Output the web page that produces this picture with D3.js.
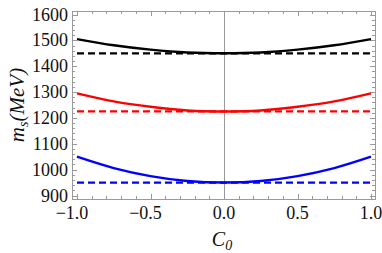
<!DOCTYPE html>
<html>
<head>
<meta charset="utf-8">
<script src="https://cdn.jsdelivr.net/npm/d3@7"></script>
<style>
  body { margin: 0; background: #fff; }
  text { font-family: "Liberation Serif", "Times New Roman", "DejaVu Serif", serif; }
</style>
</head>
<body>
<div id="chart"></div>
<script>
// values
const c0 = [-1.0, -0.75, -0.5, -0.25, 0.0, 0.25, 0.5, 0.75, 1.0];
const massBlack = [1505, 1481, 1464, 1453, 1450, 1453, 1464, 1481, 1505];
const massRed = [1295, 1264, 1243, 1229, 1225, 1229, 1243, 1264, 1295];
const massBlue = [1050, 1006, 975, 956, 950, 956, 975, 1006, 1050];
const minBlack = 1450;
const minRed = 1225;
const minBlue = 950;
const xTicks = [-1.0, -0.5, 0.0, 0.5, 1.0];
const yTicks = [900, 1000, 1100, 1200, 1300, 1400, 1500, 1600];

const series = [
  {values: massBlack, min: minBlack, color: "#000000"},
  {values: massRed, min: minRed, color: "#ff0000"},
  {values: massBlue, min: minBlue, color: "#0000ff"}
];

const width = 382, height = 253;
const frame = {left: 72, right: 375, top: 11, bottom: 199};

const svg = d3.select("#chart")
  .append("svg")
  .attr("width", width)
  .attr("height", height);

const x = d3.scaleLinear().domain([-1, 1]).range([77, 371]);
const y = d3.scaleLinear().domain([900, 1600]).range([195.5, 14.5]);

const frameColor = "#999";

// minor + major ticks on all four sides, pointing inwards
const xMinor = d3.range(-10, 11).map(d => d / 10);
const yMinor = d3.range(900, 1601, 20);
const ticks = svg.append("g").attr("stroke", frameColor).attr("stroke-width", 1);

xMinor.forEach(v => {
  const major = xTicks.some(t => Math.abs(t - v) < 1e-9);
  const len = major ? 5 : 3;
  const px = Math.round(x(v)) + 0.5;
  ticks.append("line").attr("x1", px).attr("x2", px)
    .attr("y1", frame.bottom).attr("y2", frame.bottom - len);
  ticks.append("line").attr("x1", px).attr("x2", px)
    .attr("y1", frame.top).attr("y2", frame.top + len);
});
yMinor.forEach(v => {
  const major = v % 100 === 0;
  const len = major ? 5 : 3;
  const py = Math.round(y(v)) + 0.5;
  ticks.append("line").attr("y1", py).attr("y2", py)
    .attr("x1", frame.left).attr("x2", frame.left + len);
  ticks.append("line").attr("y1", py).attr("y2", py)
    .attr("x1", frame.right).attr("x2", frame.right - len);
});

// vertical axis at C0 = 0
svg.append("line")
  .attr("x1", Math.round(x(0)) + 0.5).attr("x2", Math.round(x(0)) + 0.5)
  .attr("y1", frame.top).attr("y2", frame.bottom)
  .attr("stroke", "#999").attr("stroke-width", 1);

// frame
svg.append("rect")
  .attr("x", frame.left + 0.5).attr("y", frame.top + 0.5)
  .attr("width", frame.right - frame.left)
  .attr("height", frame.bottom - frame.top)
  .attr("fill", "none")
  .attr("stroke", frameColor)
  .attr("stroke-width", 1);

const line = d3.line()
  .x((d, i) => x(c0[i]))
  .y(d => y(d))
  .curve(d3.curveCatmullRom);

series.forEach(s => {
  svg.append("line")
    .attr("x1", x(-1)).attr("x2", x(1))
    .attr("y1", y(s.min)).attr("y2", y(s.min))
    .attr("stroke", s.color)
    .attr("stroke-width", 2.2)
    .attr("stroke-dasharray", "7,4");

  svg.append("path")
    .datum(s.values)
    .attr("fill", "none")
    .attr("stroke", s.color)
    .attr("stroke-width", 2.4)
    .attr("d", line);
});

// tick labels
const fmtX = d => (d < 0 ? "\u2212" : "") + Math.abs(d).toFixed(1);
svg.append("g").selectAll("text")
  .data(xTicks).join("text")
  .attr("x", d => x(d) - (d < 0 ? 5 : 0))
  .attr("y", 219)
  .attr("text-anchor", "middle")
  .attr("font-size", 18)
  .attr("fill", "#111")
  .text(fmtX);

svg.append("g").selectAll("text")
  .data(yTicks).join("text")
  .attr("x", 68)
  .attr("y", d => y(d) + 6)
  .attr("text-anchor", "end")
  .attr("font-size", 18)
  .attr("fill", "#111")
  .text(d => d);

// axis titles
const xt = svg.append("text")
  .attr("x", 222)
  .attr("y", 246)
  .attr("text-anchor", "middle")
  .attr("font-size", 20)
  .attr("font-style", "italic")
  .attr("fill", "#111");
xt.append("tspan").text("C");
xt.append("tspan").attr("font-size", 14).attr("dy", 4).text("0");

const yt = svg.append("text")
  .attr("transform", "translate(24,105) rotate(-90)")
  .attr("text-anchor", "middle")
  .attr("font-size", 21)
  .attr("font-style", "italic")
  .attr("fill", "#111");
yt.append("tspan").text("m");
yt.append("tspan").attr("font-size", 14).attr("dy", 4).text("s");
yt.append("tspan").attr("dy", -4).text("(MeV)");
</script>
</body>
</html>
